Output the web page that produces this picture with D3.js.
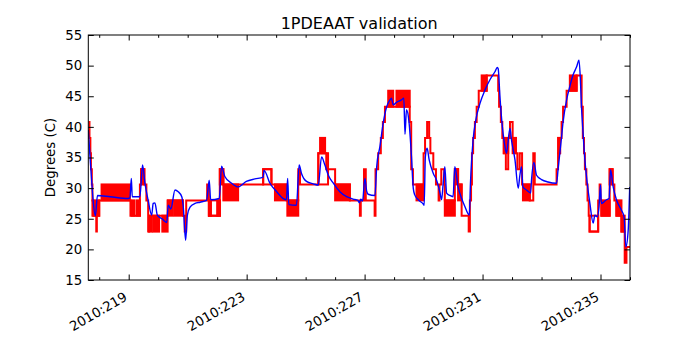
<!DOCTYPE html>
<html><head><meta charset="utf-8">
<script src="https://cdn.jsdelivr.net/npm/d3@7"></script>
<style>body{margin:0;background:#fff} svg{display:block} text{font-family:"DejaVu Sans",sans-serif;fill:#000}</style>
</head><body><svg id="c" width="700" height="350"></svg>
<script>
const title = "1PDEAAT validation";
const yLabel = "Degrees (C)";
const xDomain = [217.63, 236.0];
const yDomain = [15, 55];
const xMajorTicks = [219, 223, 227, 231, 235];
const xTickLabels = ["2010:219", "2010:223", "2010:227", "2010:231", "2010:235"];
const xMinorTicks = [218, 220, 221, 222, 224, 225, 226, 228, 229, 230, 232, 233, 234, 236];
const yTicks = [15, 20, 25, 30, 35, 40, 45, 50, 55];

// telemetry (quantized), step-after: [day, degC]
const redSteps = [
[217.63,40.8],[217.67,38.2],[217.70,35.7],[217.72,33.1],[217.75,30.6],[217.77,28.0],[217.80,25.5],
[217.90,22.9],[217.92,25.5],[218.00,28.0],[219.06,25.5],[219.38,30.6],[219.42,33.1],[219.53,30.6],
[219.60,28.0],[219.66,22.9],[219.69,25.5],[220.32,28.0],[220.84,25.5],[220.90,22.9],[220.95,28.0],
[221.66,30.6],[221.72,25.5],[222.09,33.1],[222.21,30.6],[223.56,33.1],[223.84,30.6],[224.36,28.0],
[224.75,33.1],[224.81,30.6],[225.43,35.7],[225.70,33.1],[226.00,30.6],[226.50,28.0],[226.84,25.5],
[226.87,28.0],[226.98,33.1],[227.04,28.0],[227.34,25.5],[227.37,33.1],[227.46,35.7],[227.55,38.2],
[227.62,40.8],[227.69,43.3],[228.53,40.8],[228.58,33.1],[228.64,30.6],[229.00,35.7],[229.05,38.2],
[229.12,40.8],[229.19,38.2],[229.23,35.7],[229.33,33.1],[229.42,30.6],[229.51,28.0],[229.54,30.6],
[229.60,33.1],[229.70,30.6],[229.72,28.0],[230.06,33.1],[230.17,30.6],[230.29,25.5],[230.53,22.9],
[230.57,28.0],[230.61,30.6],[230.64,35.7],[230.68,38.2],[230.74,40.8],[230.80,43.3],[230.87,45.9],
[231.14,48.4],[231.53,45.9],[231.56,43.3],[231.62,40.8],[231.67,38.2],[231.72,35.7],[231.79,33.1],
[231.87,38.2],[231.93,40.8],[232.02,38.2],[232.13,35.7],[232.18,33.1],[232.26,35.7],[232.34,30.6],
[232.60,28.0],[232.72,35.7],[232.77,30.6],[233.51,33.1],[233.56,35.7],[233.63,38.2],[233.68,40.8],
[233.73,43.3],[233.85,45.9],[234.19,48.4],[234.36,43.3],[234.40,38.2],[234.44,35.7],[234.47,33.1],
[234.52,30.6],[234.56,28.0],[234.60,25.5],[234.63,22.9],[234.92,28.0],[234.97,30.6],[235.00,28.0],
[235.03,25.5],[235.31,33.1],[235.41,30.6],[235.47,28.0],[235.54,25.5],[235.71,22.9],[235.82,17.8],
[235.88,20.4],[236.00,20.4]
];

// periods where telemetry toggles rapidly between two adjacent levels: [day0, day1, low, high]
const redToggles = [
[217.77,218.00,25.5,28.0],[218.08,219.04,28.0,30.6],[219.10,219.20,25.5,28.0],[219.28,219.38,25.5,28.0],
[219.42,219.53,30.6,33.1],[219.69,219.78,22.9,25.5],[219.83,220.03,22.9,25.5],[220.14,220.32,22.9,25.5],
[220.33,220.50,25.5,28.0],[220.56,220.84,25.5,28.0],[221.72,221.79,25.5,28.0],[222.00,222.09,25.5,28.0],
[222.09,222.21,30.6,33.1],[222.21,222.71,28.0,30.6],[223.96,224.36,28.0,30.6],[224.38,224.75,25.5,28.0],
[225.49,225.66,35.7,38.2],[226.00,226.50,28.0,30.6],[227.80,227.97,43.3,45.9],[228.08,228.53,43.3,45.9],
[228.76,228.99,28.0,30.6],[229.72,230.06,25.5,28.0],[230.06,230.17,30.6,33.1],[230.17,230.29,28.0,30.6],
[230.97,231.14,45.9,48.4],[231.72,231.87,35.7,38.2],[232.02,232.13,35.7,38.2],[232.37,232.60,28.0,30.6],
[233.56,233.63,35.7,38.2],[233.96,234.19,45.9,48.4],[235.03,235.31,25.5,28.0],[235.31,235.41,30.6,33.1],
[235.54,235.71,25.5,28.0],[235.71,235.82,22.9,25.5]
];

// periods where telemetry alternates slowly between two levels: [day0, day1, low, high]
const redAlternations = [
[221.72,222.09,25.5,28.0],[223.56,223.84,30.6,33.1],[225.43,225.76,30.6,35.7],[234.63,234.92,22.9,25.5]
];

// model prediction: [day, degC]
const blueModel = [
[217.63,39.5],[217.69,35.0],[217.75,30.8],[217.79,28.2],[217.87,25.5],[217.94,28.8],[218.37,28.6],
[218.98,28.3],[219.04,28.4],[219.09,31.6],[219.12,28.6],[219.38,28.6],[219.47,33.8],[219.55,30.8],
[219.66,28.0],[219.78,25.6],[219.83,27.5],[219.89,27.6],[219.97,25.6],[220.13,25.0],[220.29,24.4],
[220.34,27.2],[220.43,26.6],[220.57,29.7],[220.68,29.4],[220.80,28.6],[220.85,27.0],[220.93,21.5],
[220.99,25.6],[221.08,26.9],[221.25,27.5],[221.42,27.7],[221.64,28.0],[221.73,31.3],[221.78,28.1],
[222.07,28.3],[222.15,33.6],[222.26,31.9],[222.49,30.8],[222.71,30.2],[222.99,31.1],[223.28,31.5],
[223.56,31.8],[223.59,32.9],[223.79,30.8],[224.02,29.4],[224.24,28.3],[224.35,28.1],[224.39,31.6],
[224.43,27.3],[224.69,27.2],[224.78,33.8],[224.86,32.4],[225.03,31.1],[225.26,30.7],[225.43,30.5],
[225.54,35.1],[225.65,33.8],[225.77,32.1],[225.94,30.8],[226.16,29.4],[226.39,28.6],[226.61,28.2],
[226.77,28.0],[226.82,27.6],[226.87,28.2],[226.93,27.9],[227.01,31.6],[227.07,29.5],[227.12,29.0],
[227.35,28.8],[227.41,33.5],[227.52,36.8],[227.63,40.6],[227.75,43.3],[227.86,44.4],[227.91,44.7],
[227.97,43.6],[228.08,44.0],[228.25,44.4],[228.33,44.7],[228.37,38.8],[228.42,42.8],[228.51,40.6],
[228.59,35.1],[228.65,30.0],[228.70,28.9],[228.82,28.1],[228.99,27.4],[229.02,27.2],[229.06,35.1],
[229.12,36.5],[229.19,34.6],[229.33,32.4],[229.44,31.3],[229.55,29.4],[229.61,28.1],[229.66,30.5],
[229.72,33.5],[229.78,29.2],[229.89,28.8],[230.00,28.6],[230.06,33.5],[230.17,30.2],[230.29,28.3],
[230.40,27.0],[230.55,25.6],[230.59,30.8],[230.68,37.9],[230.77,41.1],[230.91,43.8],[231.08,46.0],
[231.25,47.7],[231.42,49.0],[231.50,49.7],[231.53,49.5],[231.59,44.9],[231.65,41.1],[231.76,36.8],
[231.81,35.7],[231.93,39.8],[231.98,37.9],[232.10,34.6],[232.21,30.0],[232.26,31.9],[232.32,33.5],
[232.37,30.2],[232.49,29.7],[232.63,29.2],[232.66,31.3],[232.74,34.2],[232.83,32.1],[233.00,31.4],
[233.22,31.0],[233.51,30.8],[233.56,33.0],[233.62,35.7],[233.68,38.4],[233.73,40.8],[233.85,44.4],
[233.96,46.6],[234.07,48.5],[234.19,49.8],[234.27,50.9],[234.32,47.5],[234.35,43.8],[234.41,38.9],
[234.47,34.6],[234.55,30.8],[234.64,27.5],[234.75,24.3],[234.81,25.6],[234.89,25.3],[234.95,27.0],
[235.00,30.5],[235.03,27.5],[235.20,28.1],[235.29,28.3],[235.34,33.0],[235.43,30.2],[235.54,28.1],
[235.71,26.4],[235.80,25.3],[235.86,20.4],[235.94,23.2],[235.99,30.2]
];

const L = 88.3, R = 630, T = 35, B = 280;
const FS = 13.33;
const svg = d3.select("#c");
const x = d3.scaleLinear().domain(xDomain).range([L, R]);
const y = d3.scaleLinear().domain(yDomain).range([B, T]);

svg.append("defs").append("clipPath").attr("id", "clip")
  .append("rect").attr("x", L).attr("y", T).attr("width", R - L).attr("height", B - T);
const plot = svg.append("g").attr("clip-path", "url(#clip)");

plot.selectAll("rect.tog").data(redToggles).enter().append("rect")
  .attr("class", "tog")
  .attr("x", d => x(d[0]) - 1).attr("width", d => x(d[1]) - x(d[0]) + 2)
  .attr("y", d => y(d[3]) - 1).attr("height", d => y(d[2]) - y(d[3]) + 2)
  .attr("fill", "#ff0000");

plot.selectAll("rect.alt").data(redAlternations).enter().append("rect")
  .attr("class", "alt")
  .attr("x", d => x(d[0])).attr("width", d => x(d[1]) - x(d[0]))
  .attr("y", d => y(d[3])).attr("height", d => y(d[2]) - y(d[3]))
  .attr("fill", "none").attr("stroke", "#ff0000").attr("stroke-width", 2);

plot.append("path").datum(redSteps)
  .attr("d", d3.line().x(d => x(d[0])).y(d => y(d[1])).curve(d3.curveStepAfter))
  .attr("fill", "none").attr("stroke", "#ff0000").attr("stroke-width", 2);

plot.append("path").datum(blueModel)
  .attr("d", d3.line().x(d => x(d[0])).y(d => y(d[1])).curve(d3.curveMonotoneX))
  .attr("fill", "none").attr("stroke", "#0000ff").attr("stroke-width", 1.4)
  .attr("stroke-linejoin", "round");

// axes (inward ticks, mirrored)
const minors = xMinorTicks.filter(t => t <= xDomain[1]);
const gB = svg.append("g").attr("transform", `translate(0,${B})`)
  .call(d3.axisBottom(x).tickValues(xMajorTicks).tickSizeInner(-5.5).tickSizeOuter(0).tickFormat((d, i) => xTickLabels[i]));
gB.select(".domain").remove();
gB.selectAll("text").attr("font-size", FS).attr("text-anchor", "end")
  .attr("dy", 0).attr("y", 0).attr("x", 0)
  .attr("transform", "translate(-1,299.5) rotate(-30)".replace("299.5", (299.5 - B).toString()));
svg.append("g").attr("transform", `translate(0,${B})`)
  .call(d3.axisBottom(x).tickValues(minors).tickSizeInner(-2.8).tickSizeOuter(0).tickFormat(""))
  .select(".domain").remove();
svg.append("g").attr("transform", `translate(0,${T})`)
  .call(d3.axisTop(x).tickValues(xMajorTicks).tickSizeInner(-5.5).tickSizeOuter(0).tickFormat(""))
  .select(".domain").remove();
svg.append("g").attr("transform", `translate(0,${T})`)
  .call(d3.axisTop(x).tickValues(minors).tickSizeInner(-2.8).tickSizeOuter(0).tickFormat(""))
  .select(".domain").remove();

const gL = svg.append("g").attr("transform", `translate(${L},0)`)
  .call(d3.axisLeft(y).tickValues(yTicks).tickSizeInner(-5.5).tickSizeOuter(0).tickPadding(6).tickFormat(d3.format("d")));
gL.select(".domain").remove();
gL.selectAll("text").attr("font-size", FS);
svg.append("g").attr("transform", `translate(${R},0)`)
  .call(d3.axisRight(y).tickValues(yTicks).tickSizeInner(-5.5).tickSizeOuter(0).tickFormat(""))
  .select(".domain").remove();
svg.selectAll(".tick line").attr("stroke", "#000").attr("stroke-width", 1);

svg.append("rect").attr("x", L).attr("y", T).attr("width", R - L).attr("height", B - T)
  .attr("fill", "none").attr("stroke", "#000").attr("stroke-width", 1);

svg.append("text").attr("x", (L + R) / 2).attr("y", 28.5).attr("text-anchor", "middle")
  .attr("font-size", 16).text(title);
svg.append("text").attr("transform", `translate(55,${(T + B) / 2}) rotate(-90)`)
  .attr("text-anchor", "middle").attr("font-size", FS).text(yLabel);
</script></body></html>
